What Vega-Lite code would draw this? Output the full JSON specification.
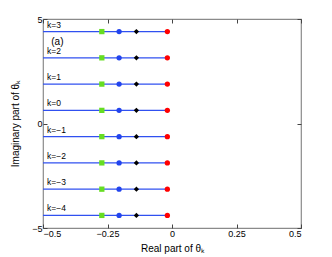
{
  "$schema": "https://vega.github.io/schema/vega-lite/v6.json",
  "autosize": "none",
  "width": 258,
  "height": 209,
  "padding": {"left": 43, "top": 19, "right": 31, "bottom": 29},
  "config": {
    "font": "Liberation Sans",
    "view": {"stroke": "#8a8a8a", "strokeWidth": 1.2},
    "axis": {"domain": false, "grid": false, "ticks": true, "tickColor": "#444", "tickWidth": 1, "tickSize": -4, "labelColor": "#000", "labelFontSize": 9, "titleFontSize": 10, "titleFontWeight": "normal", "titleColor": "#000", "labelPadding": 5}
  },
  "resolve": {"axis": {"x": "independent", "y": "independent"}},
  "datasets": {
    "lines": [
      {"k": "k=3", "im": 4.398, "x0": -0.5, "x1": -0.018},
      {"k": "k=2", "im": 3.142, "x0": -0.5, "x1": -0.018},
      {"k": "k=1", "im": 1.885, "x0": -0.5, "x1": -0.018},
      {"k": "k=0", "im": 0.628, "x0": -0.5, "x1": -0.018},
      {"k": "k=\u22121", "im": -0.628, "x0": -0.5, "x1": -0.018},
      {"k": "k=\u22122", "im": -1.885, "x0": -0.5, "x1": -0.018},
      {"k": "k=\u22123", "im": -3.142, "x0": -0.5, "x1": -0.018},
      {"k": "k=\u22124", "im": -4.398, "x0": -0.5, "x1": -0.018}
    ],
    "points": [
      {"im": 4.398, "re": -0.272, "s": "g"}, {"im": 4.398, "re": -0.205, "s": "b"}, {"im": 4.398, "re": -0.138, "s": "k"}, {"im": 4.398, "re": -0.018, "s": "r"},
      {"im": 3.142, "re": -0.272, "s": "g"}, {"im": 3.142, "re": -0.205, "s": "b"}, {"im": 3.142, "re": -0.138, "s": "k"}, {"im": 3.142, "re": -0.018, "s": "r"},
      {"im": 1.885, "re": -0.272, "s": "g"}, {"im": 1.885, "re": -0.205, "s": "b"}, {"im": 1.885, "re": -0.138, "s": "k"}, {"im": 1.885, "re": -0.018, "s": "r"},
      {"im": 0.628, "re": -0.272, "s": "g"}, {"im": 0.628, "re": -0.205, "s": "b"}, {"im": 0.628, "re": -0.138, "s": "k"}, {"im": 0.628, "re": -0.018, "s": "r"},
      {"im": -0.628, "re": -0.272, "s": "g"}, {"im": -0.628, "re": -0.205, "s": "b"}, {"im": -0.628, "re": -0.138, "s": "k"}, {"im": -0.628, "re": -0.018, "s": "r"},
      {"im": -1.885, "re": -0.272, "s": "g"}, {"im": -1.885, "re": -0.205, "s": "b"}, {"im": -1.885, "re": -0.138, "s": "k"}, {"im": -1.885, "re": -0.018, "s": "r"},
      {"im": -3.142, "re": -0.272, "s": "g"}, {"im": -3.142, "re": -0.205, "s": "b"}, {"im": -3.142, "re": -0.138, "s": "k"}, {"im": -3.142, "re": -0.018, "s": "r"},
      {"im": -4.398, "re": -0.272, "s": "g"}, {"im": -4.398, "re": -0.205, "s": "b"}, {"im": -4.398, "re": -0.138, "s": "k"}, {"im": -4.398, "re": -0.018, "s": "r"}
    ],
    "panel": [{"label": "(a)", "x": -0.468, "y": 3.9}]
  },
  "layer": [
    {
      "data": {"name": "lines"},
      "mark": {"type": "rule", "color": "#3050f0", "strokeWidth": 1.2},
      "encoding": {
        "x": {"field": "x0", "type": "quantitative", "scale": {"domain": [-0.5, 0.5], "nice": false},
          "axis": {"values": [-0.5, -0.25, 0, 0.25, 0.5], "labelExpr": "replace(toString(datum.value), '-', '\u2212')", "title": "Real part of θₖ", "titlePadding": 5}},
        "x2": {"field": "x1"},
        "y": {"field": "im", "type": "quantitative", "scale": {"domain": [-5, 5], "nice": false},
          "axis": {"values": [-5, 0, 5], "labelExpr": "replace(toString(datum.value), '-', '\u2212')", "title": "Imaginary part of θₖ", "titlePadding": 11}}
      }
    },
    {
      "data": {"name": "lines"},
      "mark": {"type": "rule", "opacity": 0},
      "encoding": {
        "x": {"field": "x0", "type": "quantitative", "axis": {"orient": "top", "values": [-0.5, -0.25, 0, 0.25, 0.5], "labels": false, "title": null}},
        "y": {"field": "im", "type": "quantitative", "axis": {"orient": "right", "values": [-5, 0, 5], "labels": false, "title": null}}
      }
    },
    {
      "data": {"name": "lines"},
      "mark": {"type": "text", "align": "left", "baseline": "bottom", "dx": 4, "dy": -2, "fontSize": 8.5},
      "encoding": {
        "x": {"field": "x0", "type": "quantitative", "axis": null},
        "y": {"field": "im", "type": "quantitative", "axis": null},
        "text": {"field": "k"}
      }
    },
    {
      "data": {"name": "points"},
      "mark": {"type": "point", "filled": true, "opacity": 1, "size": 28},
      "encoding": {
        "x": {"field": "re", "type": "quantitative", "axis": null},
        "y": {"field": "im", "type": "quantitative", "axis": null},
        "color": {"field": "s", "type": "nominal", "scale": {"domain": ["g", "b", "k", "r"], "range": ["#66dd22", "#2244ee", "#000000", "#ff0000"]}, "legend": null},
        "shape": {"field": "s", "type": "nominal", "scale": {"domain": ["g", "b", "k", "r"], "range": ["square", "circle", "diamond", "circle"]}, "legend": null}
      }
    },
    {
      "data": {"name": "panel"},
      "mark": {"type": "text", "align": "left", "baseline": "middle", "fontSize": 10},
      "encoding": {
        "x": {"field": "x", "type": "quantitative", "axis": null},
        "y": {"field": "y", "type": "quantitative", "axis": null},
        "text": {"field": "label"}
      }
    }
  ]
}
